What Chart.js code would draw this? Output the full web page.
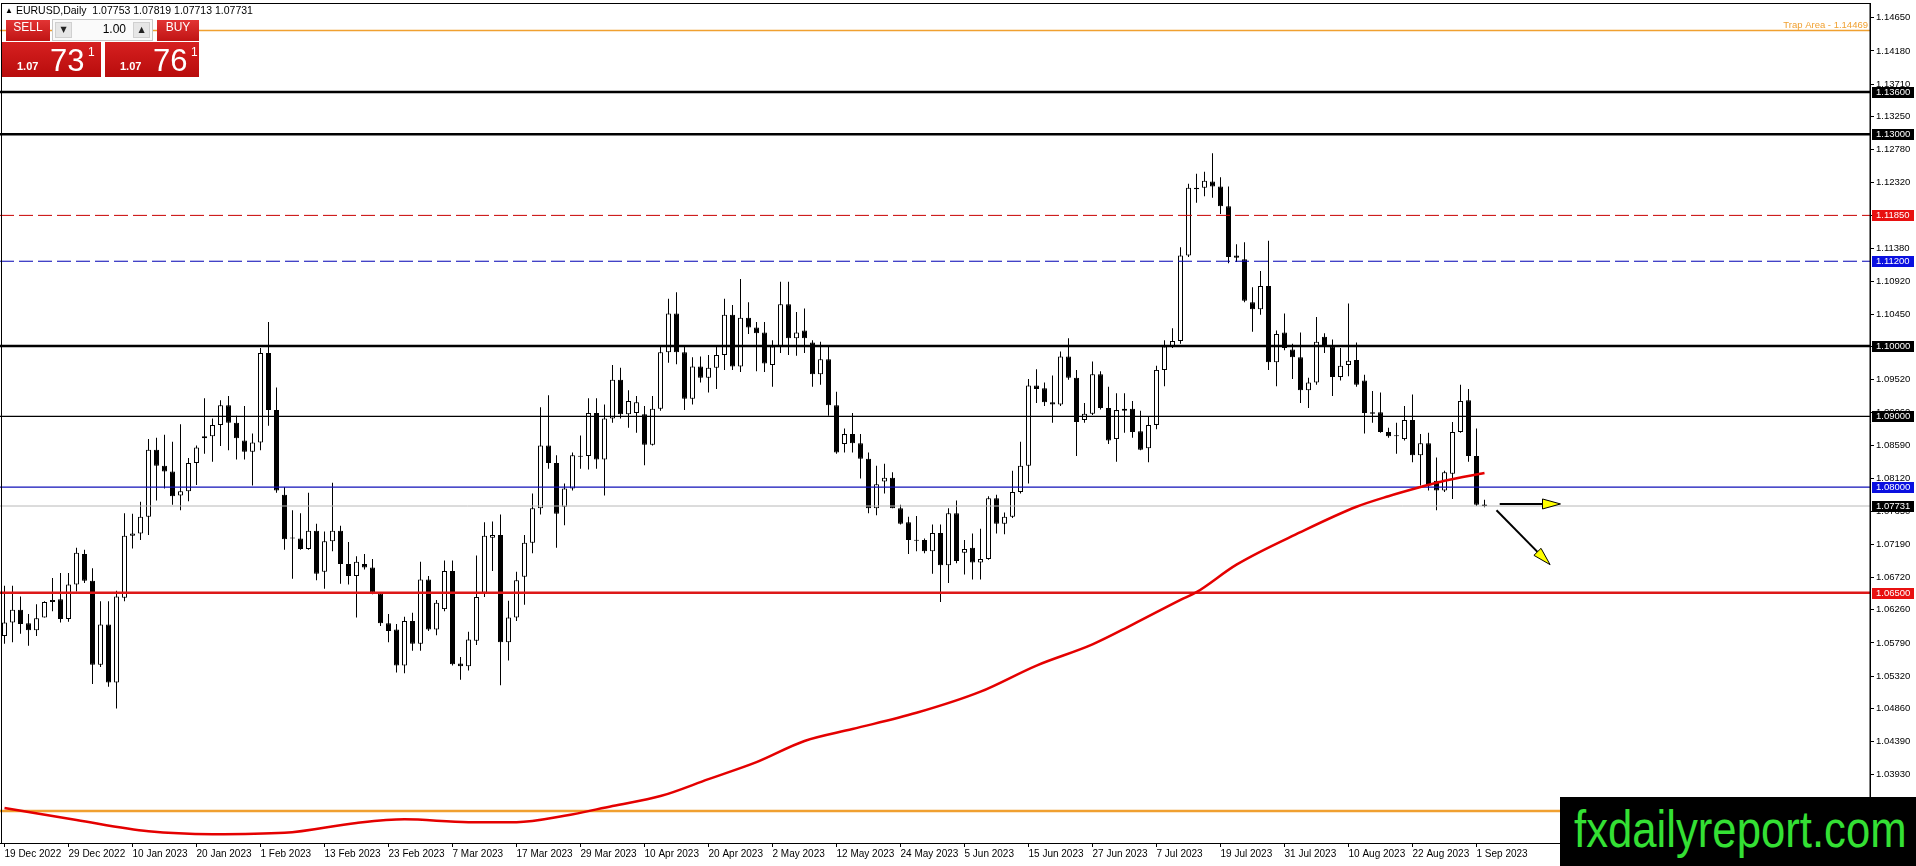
<!DOCTYPE html>
<html>
<head>
<meta charset="utf-8">
<script src="https://cdn.jsdelivr.net/npm/chart.js@4.4.0/dist/chart.umd.min.js"></script>
<style>
html, body { margin: 0; padding: 0; background: #fff; overflow: hidden; }
#wrap { position: relative; width: 1916px; height: 866px; }
#chart { position: absolute; left: 0; top: 0; }
.hdr { position: absolute; left: 5px; top: 4px; font: 10.5px "Liberation Sans", Arial, sans-serif; color: #000; white-space: nowrap; }
.hdr .tri { font-size: 8px; position: relative; top: -1px; margin-right: 3px; }
.btn { position: absolute; top: 20px; height: 21px; line-height: 21px; text-align: center; color: #fff;
  font: 12px "Liberation Sans", Arial, sans-serif; background: linear-gradient(#e23434, #c01414); }
.field { position: absolute; left: 52px; top: 19px; width: 101px; height: 22px; background: #fafafa; border: 1px solid #c8c8c8; box-sizing: border-box; }
.field .sq { position: absolute; top: 2px; width: 17px; height: 16px; background: #e6e6e6; border: 1px solid #d0d0d0; box-sizing: border-box;
  font: 8px "DejaVu Sans", sans-serif; line-height: 14px; text-align: center; color: #222; }
.field .lot { position: absolute; right: 26px; top: 2px; font: 12px "Liberation Sans", Arial, sans-serif; color: #000; }
.px { position: absolute; top: 42px; height: 35px; background: linear-gradient(#d62020, #b80c0c); color: #fff; font-family: "Liberation Sans", Arial, sans-serif; }
.px .sm { position: absolute; left: 15px; bottom: 5px; font-size: 11px; font-weight: bold; }
.px .big { position: absolute; left: 48px; bottom: 1px; font-size: 31px; line-height: 31px; }
.px .sup { position: absolute; left: 86px; top: 3px; font-size: 12px; }
.logo { position: absolute; left: 1560px; top: 797px; width: 356px; height: 69px; background: #000; overflow: hidden; }
.logo span { position: absolute; left: 14px; top: 2px; font: 52px "Liberation Sans Narrow", "Liberation Sans", Arial, sans-serif; color: #34e034;
  transform: scaleX(0.84); transform-origin: left top; white-space: nowrap; }
</style>
</head>
<body>
<div id="wrap">
  <canvas id="chart" width="1916" height="866"></canvas>
  <div class="hdr"><span class="tri">▲</span>EURUSD,Daily&nbsp; 1.07753 1.07819 1.07713 1.07731</div>
  <div class="btn" style="left:6px;width:44px;">SELL</div>
  <div class="field">
    <div class="sq" style="left:2px;">▼</div>
    <div class="lot">1.00</div>
    <div class="sq" style="right:2px;">▲</div>
  </div>
  <div class="btn" style="left:157px;width:42px;">BUY</div>
  <div class="px" style="left:2px;width:99px;"><span class="sm">1.07</span><span class="big">73</span><span class="sup">1</span></div>
  <div class="px" style="left:105px;width:94px;"><span class="sm">1.07</span><span class="big">76</span><span class="sup">1</span></div>
  <div class="logo"><span>fxdailyreport.com</span></div>
</div>
<script>
// EURUSD daily, 19 Dec 2022 .. 4 Sep 2023 (one entry per trading day)
const dateLabels = ["19 Dec 2022", "29 Dec 2022", "10 Jan 2023", "20 Jan 2023", "1 Feb 2023", "13 Feb 2023",
  "23 Feb 2023", "7 Mar 2023", "17 Mar 2023", "29 Mar 2023", "10 Apr 2023", "20 Apr 2023", "2 May 2023",
  "12 May 2023", "24 May 2023", "5 Jun 2023", "15 Jun 2023", "27 Jun 2023", "7 Jul 2023", "19 Jul 2023",
  "31 Jul 2023", "10 Aug 2023", "22 Aug 2023", "1 Sep 2023"];

const opens = [
  1.0589, 1.0608, 1.0626, 1.0607, 1.0597, 1.0615, 1.0637, 1.0641, 1.0613, 1.0662,
  1.0705, 1.0667, 1.0548, 1.0605, 1.0523, 1.0643, 1.0731, 1.0734, 1.0758, 1.0853,
  1.0830, 1.0822, 1.0788, 1.0794, 1.0834, 1.0869, 1.0872, 1.0888, 1.0916, 1.0891,
  1.0866, 1.0850, 1.0863, 1.0990, 1.0909, 1.0789, 1.0728, 1.0727, 1.0712, 1.0738,
  1.0680, 1.0723, 1.0738, 1.0691, 1.0674, 1.0691, 1.0686, 1.0649, 1.0607, 1.0598,
  1.0547, 1.0610, 1.0578, 1.0669, 1.0598, 1.0627, 1.0681, 1.0550, 1.0546, 1.0582,
  1.0650, 1.0728, 1.0732, 1.0580, 1.0615, 1.0673, 1.0721, 1.0770, 1.0859, 1.0834,
  1.0772, 1.0798, 1.0843, 1.0844, 1.0905, 1.0839, 1.0897, 1.0952, 1.0903, 1.0905,
  1.0903, 1.0860, 1.0911, 1.0991, 1.1046, 1.0991, 1.0925, 1.0971, 1.0955, 1.0969,
  1.0987, 1.1044, 1.0971, 1.1040, 1.1026, 1.1019, 1.0973, 1.0999, 1.1059, 1.1011,
  1.1022, 1.1005, 1.0960, 1.0981, 1.0916, 1.0861, 1.0875, 1.0862, 1.0840, 1.0770,
  1.0808, 1.0813, 1.0770, 1.0750, 1.0725, 1.0725, 1.0709, 1.0735, 1.0689, 1.0763,
  1.0707, 1.0714, 1.0693, 1.0698, 1.0784, 1.0748, 1.0758, 1.0793, 1.0830, 1.0944,
  1.0940, 1.0920, 1.0917, 1.0985, 1.0955, 1.0895, 1.0904, 1.0960, 1.0912, 1.0868,
  1.0908, 1.0911, 1.0879, 1.0855, 1.0888, 1.0966, 1.0999, 1.1007, 1.1128, 1.1224,
  1.1224, 1.1233, 1.1226, 1.1198, 1.1128, 1.1123, 1.1062, 1.1052, 1.1085, 1.0977,
  1.1019, 1.0995, 1.0984, 1.0937, 1.0948, 1.1013, 1.0999, 1.0956, 1.0973, 1.0980,
  1.0951, 1.0906, 1.0906, 1.0878, 1.0872, 1.0868, 1.0895, 1.0845, 1.0862, 1.0809,
  1.0795, 1.0819, 1.0878, 1.0923, 1.0844, 1.07753];
const highs = [
  1.0660, 1.0660, 1.0645, 1.0620, 1.0634, 1.0638, 1.0671, 1.0678, 1.0678, 1.0714,
  1.0711, 1.0685, 1.0638, 1.0638, 1.0653, 1.0763, 1.0762, 1.0779, 1.0868, 1.0870,
  1.0874, 1.0864, 1.0889, 1.0841, 1.0859, 1.0926, 1.0897, 1.0923, 1.0929, 1.0901,
  1.0915, 1.0876, 1.0997, 1.1034, 1.0941, 1.0800, 1.0767, 1.0763, 1.0792, 1.0748,
  1.0737, 1.0806, 1.0745, 1.0722, 1.0702, 1.0705, 1.0698, 1.0650, 1.0620, 1.0606,
  1.0616, 1.0622, 1.0694, 1.0674, 1.0640, 1.0696, 1.0696, 1.0559, 1.0595, 1.0703,
  1.0750, 1.0751, 1.0761, 1.0639, 1.0680, 1.0732, 1.0791, 1.0913, 1.0930, 1.0845,
  1.0805, 1.0849, 1.0873, 1.0926, 1.0926, 1.0917, 1.0973, 1.0969, 1.0937, 1.0929,
  1.0915, 1.0929, 1.0999, 1.1067, 1.1076, 1.0999, 1.0984, 1.0985, 1.0987, 1.1000,
  1.1067, 1.1058, 1.1095, 1.1062, 1.1034, 1.1034, 1.1008, 1.1091, 1.1091, 1.1048,
  1.1053, 1.1008, 1.1006, 1.0999, 1.0935, 1.0883, 1.0905, 1.0875, 1.0849, 1.0830,
  1.0833, 1.0821, 1.0775, 1.0758, 1.0759, 1.0727, 1.0747, 1.0747, 1.0770, 1.0781,
  1.0725, 1.0734, 1.0741, 1.0787, 1.0789, 1.0764, 1.0823, 1.0864, 1.0953, 1.0967,
  1.0948, 1.0958, 1.0992, 1.1011, 1.0966, 1.0919, 1.0978, 1.0964, 1.0942, 1.0933,
  1.0933, 1.0922, 1.0908, 1.0900, 1.0972, 1.1008, 1.1025, 1.1140, 1.1230, 1.1244,
  1.1247, 1.1273, 1.1239, 1.1226, 1.1144, 1.1147, 1.1083, 1.1106, 1.1149, 1.1022,
  1.1046, 1.1003, 1.1019, 1.0955, 1.1041, 1.1018, 1.1009, 1.0997, 1.1060, 1.1005,
  1.0959, 1.0936, 1.0934, 1.0884, 1.0891, 1.0915, 1.0931, 1.0875, 1.0877, 1.0842,
  1.0823, 1.0892, 1.0945, 1.0939, 1.0883, 1.07819];
const lows = [
  1.0578, 1.0580, 1.0592, 1.0575, 1.0589, 1.0615, 1.0624, 1.0608, 1.0609, 1.0652,
  1.0664, 1.0521, 1.0545, 1.0517, 1.0486, 1.0638, 1.0713, 1.0725, 1.0732, 1.0781,
  1.0798, 1.0775, 1.0767, 1.0780, 1.0803, 1.0847, 1.0836, 1.0858, 1.0852, 1.0839,
  1.0839, 1.0802, 1.0852, 1.0887, 1.0792, 1.0711, 1.0670, 1.0711, 1.0711, 1.0668,
  1.0656, 1.0709, 1.0663, 1.0662, 1.0615, 1.0683, 1.0648, 1.0603, 1.0580, 1.0537,
  1.0536, 1.0568, 1.0568, 1.0596, 1.0590, 1.0624, 1.0547, 1.0527, 1.0540, 1.0576,
  1.0644, 1.0681, 1.0519, 1.0554, 1.0610, 1.0633, 1.0706, 1.0761, 1.0826, 1.0714,
  1.0746, 1.0795, 1.0826, 1.0825, 1.0826, 1.0788, 1.0891, 1.0897, 1.0884, 1.0877,
  1.0831, 1.0859, 1.0908, 1.0976, 1.0974, 1.0909, 1.0917, 1.0948, 1.0934, 1.0939,
  1.0966, 1.0966, 1.0963, 1.1017, 1.0964, 1.0963, 1.0942, 1.0990, 1.0987, 1.0986,
  1.0990, 1.0942, 1.0945, 1.0901, 1.0847, 1.0849, 1.0849, 1.0812, 1.0763, 1.0760,
  1.0791, 1.0770, 1.0747, 1.0705, 1.0709, 1.0706, 1.0677, 1.0637, 1.0664, 1.0692,
  1.0676, 1.0669, 1.0669, 1.0697, 1.0734, 1.0733, 1.0756, 1.0791, 1.0805, 1.0919,
  1.0915, 1.0891, 1.0915, 1.0952, 1.0844, 1.0891, 1.0902, 1.0910, 1.0861, 1.0836,
  1.0877, 1.0870, 1.0852, 1.0835, 1.0882, 1.0943, 1.0997, 1.1003, 1.1126, 1.1203,
  1.1212, 1.1210, 1.1187, 1.1117, 1.1119, 1.1062, 1.1020, 1.1044, 1.0966, 1.0943,
  1.0994, 1.0953, 1.0919, 1.0912, 1.0945, 1.0990, 1.0929, 1.0951, 1.0957, 1.0942,
  1.0876, 1.0891, 1.0877, 1.0870, 1.0847, 1.0866, 1.0835, 1.0802, 1.0795, 1.0767,
  1.0793, 1.0783, 1.0877, 1.0836, 1.0773, 1.07713];
const closes = [
  1.0608, 1.0626, 1.0606, 1.0597, 1.0614, 1.0637, 1.0640, 1.0613, 1.0662, 1.0707,
  1.0667, 1.0548, 1.0605, 1.0523, 1.0645, 1.0731, 1.0734, 1.0758, 1.0853, 1.0830,
  1.0822, 1.0787, 1.0794, 1.0834, 1.0856, 1.0872, 1.0888, 1.0916, 1.0891, 1.0869,
  1.0850, 1.0863, 1.0990, 1.0909, 1.0795, 1.0726, 1.0727, 1.0712, 1.0738, 1.0677,
  1.0723, 1.0738, 1.0691, 1.0674, 1.0694, 1.0686, 1.0650, 1.0607, 1.0596, 1.0547,
  1.0610, 1.0578, 1.0669, 1.0598, 1.0636, 1.0681, 1.0549, 1.0546, 1.0584, 1.0644,
  1.0731, 1.0732, 1.0580, 1.0615, 1.0668, 1.0721, 1.0770, 1.0859, 1.0834, 1.0762,
  1.0798, 1.0845, 1.0844, 1.0905, 1.0839, 1.0897, 1.0952, 1.0903, 1.0922, 1.0920,
  1.0860, 1.0911, 1.0991, 1.1046, 1.0991, 1.0925, 1.0971, 1.0955, 1.0969, 1.0987,
  1.1044, 1.0971, 1.1040, 1.1026, 1.1018, 1.0975, 1.0999, 1.1059, 1.1011, 1.1019,
  1.1011, 1.0960, 1.0981, 1.0916, 1.0849, 1.0875, 1.0862, 1.0840, 1.0770, 1.0804,
  1.0813, 1.0770, 1.0748, 1.0725, 1.0724, 1.0709, 1.0735, 1.0689, 1.0763, 1.0695,
  1.0712, 1.0693, 1.0698, 1.0784, 1.0748, 1.0758, 1.0793, 1.0830, 1.0944, 1.0939,
  1.0920, 1.0917, 1.0985, 1.0955, 1.0892, 1.0904, 1.0960, 1.0912, 1.0866, 1.0909,
  1.0911, 1.0878, 1.0853, 1.0888, 1.0966, 1.0999, 1.1007, 1.1128, 1.1224, 1.1222,
  1.1234, 1.1226, 1.1198, 1.1126, 1.1125, 1.1064, 1.1052, 1.1085, 1.0977, 1.1017,
  1.0997, 1.0984, 1.0937, 1.0948, 1.1006, 1.1000, 1.0956, 1.0972, 1.0979, 1.0945,
  1.0905, 1.0904, 1.0878, 1.0872, 1.0872, 1.0895, 1.0845, 1.0862, 1.0802, 1.0795,
  1.0821, 1.0878, 1.0922, 1.0844, 1.0775, 1.07731];

// red moving average, read at a few bar positions
const maBars = [0, 9, 18, 26, 35, 44, 50, 58, 64, 70, 76, 82, 88, 94, 100, 106, 114, 122, 129, 136, 141, 147, 149, 154, 162, 169, 173, 177, 180, 185];
const maValues = [1.0345, 1.0328, 1.0312, 1.0308, 1.0310, 1.0324, 1.0329, 1.0325, 1.0325, 1.0334, 1.0348, 1.0362, 1.0386, 1.0410, 1.0440, 1.0457,
  1.0480, 1.0510, 1.0547, 1.0577, 1.0605, 1.0640, 1.0651, 1.0690, 1.0736, 1.0772, 1.0787, 1.0800, 1.0809, 1.0820];

// right price scale labels
const yTickValues = [1.14650, 1.14180, 1.13710, 1.13250, 1.12780, 1.12320, 1.11850, 1.11380, 1.10920, 1.10450, 1.09990,
  1.09520, 1.09060, 1.08590, 1.08120, 1.07650, 1.07190, 1.06720, 1.06260, 1.05790, 1.05320, 1.04860, 1.04390, 1.03930,
  1.03460, 1.03000];

// horizontal levels drawn on the chart
const levelPrices = [1.14469, 1.13600, 1.13000, 1.11850, 1.11200, 1.10000, 1.09000, 1.08000, 1.07731, 1.06500, 1.03410];
const levelStyles = [
  { color: "#f0a030", width: 1.5, dash: [], box: null },
  { color: "#000000", width: 2.5, dash: [], box: "#000000" },
  { color: "#000000", width: 2.5, dash: [], box: "#000000" },
  { color: "#c80000", width: 1, dash: [14, 5], box: "#e81010" },
  { color: "#0000b4", width: 1, dash: [14, 5], box: "#0a10e0" },
  { color: "#000000", width: 2.5, dash: [], box: "#000000" },
  { color: "#000000", width: 1.2, dash: [], box: "#000000" },
  { color: "#1010b8", width: 1.2, dash: [], box: "#0a10e0" },
  { color: "#b8b8b8", width: 1, dash: [], box: "#000000" },
  { color: "#dd1818", width: 2.5, dash: [], box: "#e81010" },
  { color: "#f0a030", width: 2.5, dash: [], box: "#f0a030" }
];

// arrows in (bar, price) units
const arrowFrom = [[186.9, 1.0776], [186.5, 1.0767]];
const arrowTo = [[194.5, 1.0776], [193.2, 1.0690]];

const xMin = -0.5625, xMax = 233.1875;
const yMin = 1.02955, yMax = 1.1486;
const fontFam = "'Liberation Sans', Arial, sans-serif";

const bodyData = opens.map((o, i) => ({ x: i, y: [o, closes[i]] }));
const wickData = lows.map((l, i) => ({ x: i, y: [l, highs[i]] }));
const bodyFill = opens.map((o, i) => (closes[i] >= o ? "#ffffff" : "#000000"));

const datasets = [];
datasets.push({
  type: "line",
  data: maBars.map((b, i) => ({ x: b, y: maValues[i] })),
  borderColor: "#e40000",
  borderWidth: 2.5,
  pointRadius: 0,
  cubicInterpolationMode: "monotone",
  order: 0
});
levelPrices.forEach((p, i) => {
  datasets.push({
    type: "line",
    data: [{ x: xMin, y: p }, { x: xMax, y: p }],
    borderColor: levelStyles[i].color,
    borderWidth: levelStyles[i].width,
    borderDash: levelStyles[i].dash,
    pointRadius: 0,
    order: 1
  });
});
datasets.push({
  type: "bar",
  data: bodyData,
  backgroundColor: bodyFill,
  borderColor: "#000",
  borderWidth: 1,
  borderSkipped: false,
  barThickness: 5,
  minBarLength: 1,
  inflateAmount: 0,
  grouped: false,
  order: 2
});
datasets.push({
  type: "bar",
  data: wickData,
  backgroundColor: "#000",
  borderWidth: 0,
  barThickness: 1,
  inflateAmount: 0,
  grouped: false,
  order: 3
});

const overlay = {
  id: "overlay",
  afterDraw(chart) {
    const ctx = chart.ctx;
    const a = chart.chartArea;
    const x = chart.scales.x, y = chart.scales.y;
    ctx.save();
    // chart frame
    ctx.strokeStyle = "#000";
    ctx.lineWidth = 1;
    ctx.strokeRect(a.left + 1.5, a.top + 0.5, a.right - a.left - 1.5, a.bottom - a.top);

    // level price boxes on the right scale
    ctx.font = "9.5px " + fontFam;
    ctx.textBaseline = "middle";
    levelPrices.forEach((p, i) => {
      const st = levelStyles[i];
      if (!st.box) return;
      const py = Math.round(y.getPixelForValue(p));
      ctx.fillStyle = st.box;
      ctx.fillRect(a.right + 2, py - 5, 42, 11);
      ctx.fillStyle = "#fff";
      ctx.textAlign = "left";
      ctx.fillText(p.toFixed(5), a.right + 6, py + 0.5);
    });

    // trap area caption
    ctx.fillStyle = "#f0a030";
    ctx.textAlign = "right";
    ctx.textBaseline = "alphabetic";
    ctx.fillText("Trap Area - 1.14469", a.right - 2, y.getPixelForValue(levelPrices[0]) - 3);

    // arrows
    arrowFrom.forEach((f, i) => {
      const x1 = x.getPixelForValue(f[0]), y1 = y.getPixelForValue(f[1]);
      const x2 = x.getPixelForValue(arrowTo[i][0]), y2 = y.getPixelForValue(arrowTo[i][1]);
      const ang = Math.atan2(y2 - y1, x2 - x1);
      const len = 18, half = 5;
      const bx = x2 - Math.cos(ang) * len, by = y2 - Math.sin(ang) * len;
      ctx.strokeStyle = "#000";
      ctx.lineWidth = 2;
      ctx.beginPath();
      ctx.moveTo(x1, y1);
      ctx.lineTo(bx, by);
      ctx.stroke();
      ctx.beginPath();
      ctx.moveTo(x2, y2);
      ctx.lineTo(bx - Math.sin(ang) * half, by + Math.cos(ang) * half);
      ctx.lineTo(bx + Math.sin(ang) * half, by - Math.cos(ang) * half);
      ctx.closePath();
      ctx.fillStyle = "#ffff00";
      ctx.fill();
      ctx.lineWidth = 1;
      ctx.stroke();
    });
    ctx.restore();
  }
};

new Chart(document.getElementById("chart"), {
  type: "bar",
  data: { datasets: datasets },
  options: {
    responsive: false,
    animation: false,
    devicePixelRatio: 1,
    layout: { padding: { top: 3, left: 0, right: 0, bottom: 0 } },
    plugins: { legend: { display: false }, tooltip: { enabled: false } },
    scales: {
      x: {
        type: "linear",
        min: xMin,
        max: xMax,
        offset: false,
        afterBuildTicks(s) { s.ticks = dateLabels.map((_, k) => ({ value: k * 8 })); },
        afterFit(s) { s.height = 23; s.paddingLeft = 0; s.paddingRight = 0; },
        grid: { display: true, drawOnChartArea: false, drawTicks: true, tickLength: 4, color: "#000", offset: false },
        border: { display: true, color: "#000" },
        ticks: {
          autoSkip: false, maxRotation: 0, minRotation: 0, align: "start", padding: 1, color: "#000",
          font: { family: fontFam, size: 10 },
          callback: (v, k) => dateLabels[k]
        }
      },
      y: {
        type: "linear",
        position: "right",
        min: yMin,
        max: yMax,
        afterBuildTicks(s) { s.ticks = yTickValues.map(v => ({ value: v })); },
        afterFit(s) { s.width = 46; s.paddingTop = 0; s.paddingBottom = 0; },
        grid: { display: true, drawOnChartArea: false, drawTicks: true, tickLength: 4, color: "#000" },
        border: { display: true, color: "#000" },
        ticks: {
          padding: 2, color: "#000",
          font: { family: fontFam, size: 9.5 },
          callback: v => v.toFixed(5)
        }
      }
    }
  },
  plugins: [overlay]
});
</script>
</body>
</html>
